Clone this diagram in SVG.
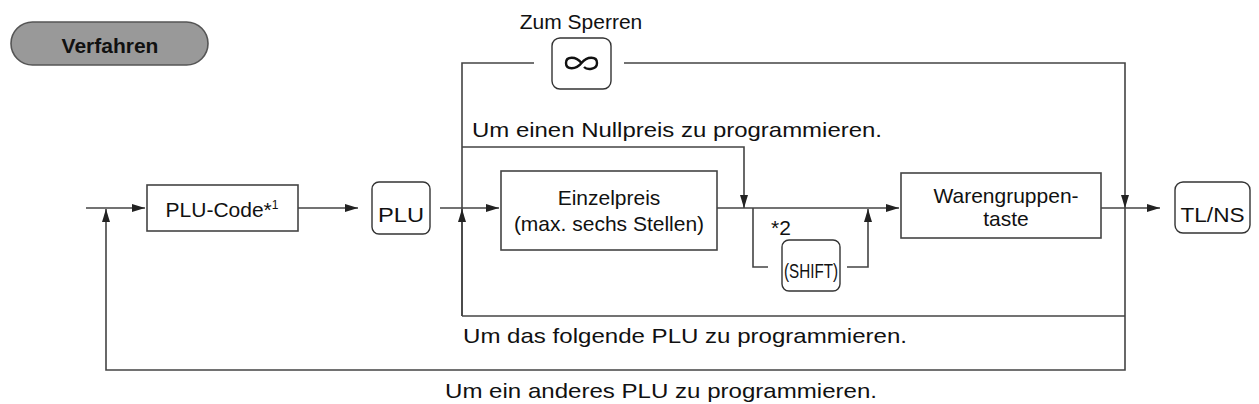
<svg xmlns="http://www.w3.org/2000/svg" width="1259" height="404" viewBox="0 0 1259 404">
<defs>
<marker id="a" markerWidth="13" markerHeight="8" refX="13" refY="4" orient="auto" markerUnits="userSpaceOnUse"><path d="M0,0 L13,4 L0,8 Z" fill="#222"/></marker>
<style>
.t{font-family:"Liberation Sans",Arial,sans-serif;fill:#111;font-size:21px}
.c{stroke:#444;stroke-width:1.6;fill:none}
.b{fill:#fff;stroke:#444;stroke-width:1.6}
.k{fill:#fff;stroke:#333;stroke-width:1.4}
</style>
</defs>
<g id="title"><rect x="11" y="22" width="197" height="43" rx="21.5" fill="#999" stroke="#555" stroke-width="1.6"/><text class="t" x="110" y="53" text-anchor="middle" font-weight="bold" font-size="24">Verfahren</text></g>
<g id="connectors">
<path class="c" d="M86,208 H145" marker-end="url(#a)"/>
<path class="c" d="M298,208 H358" marker-end="url(#a)"/>
<path class="c" d="M440,208 H499" marker-end="url(#a)"/>
<path class="c" d="M717,208 H899" marker-end="url(#a)"/>
<path class="c" d="M1101,208 H1160" marker-end="url(#a)"/>
<path class="c" d="M462,316 V63 H534"/>
<path class="c" d="M462,316 V209" marker-end="url(#a)"/>
<path class="c" d="M624,63 H1125 V208" marker-end="url(#a)"/>
<path class="c" d="M462,147 H744 V208" marker-end="url(#a)"/>
<path class="c" d="M462,316 H1125"/>
<path class="c" d="M1125,208 V370 H106 V209" marker-end="url(#a)"/>
<path class="c" d="M753,208 V267 H768"/>
<path class="c" d="M847,267 H868 V209" marker-end="url(#a)"/>
</g>
<g id="sperren"><text class="t" x="581" y="29" text-anchor="middle">Zum Sperren</text><rect class="k" x="552" y="38" width="59" height="51" rx="8"/><path d="M581.5,63 C576,56 566,56 566,63 C566,70 576,70 581.5,63 C587,56 597,56 597,63 C597,70 587,70 584,67" fill="none" stroke="#111" stroke-width="2.4"/></g>
<g id="plucode"><rect class="b" x="147" y="185" width="151" height="46"/><text class="t" x="222" y="217" text-anchor="middle" font-size="19">PLU-Code*<tspan font-size="12" dy="-8">1</tspan></text></g>
<g id="plu"><rect class="k" x="372" y="182" width="58" height="52" rx="7"/><text class="t" x="401" y="222" text-anchor="middle" font-size="29" textLength="46" lengthAdjust="spacingAndGlyphs">PLU</text></g>
<g id="einzel"><rect class="b" x="501" y="171" width="216" height="79"/><text class="t" x="609" y="205" text-anchor="middle">Einzelpreis</text><text class="t" x="609" y="231" text-anchor="middle" font-size="19">(max. sechs Stellen)</text></g>
<g id="waren"><rect class="b" x="901" y="173" width="200" height="65"/><text class="t" x="1006" y="203" text-anchor="middle">Warengruppen-</text><text class="t" x="1006" y="226" text-anchor="middle">taste</text></g>
<g id="tlns"><rect class="k" x="1175" y="182" width="75" height="51" rx="8"/><text class="t" x="1212.5" y="222" text-anchor="middle" font-size="29" textLength="64" lengthAdjust="spacingAndGlyphs">TL/NS</text></g>
<g id="shift"><text class="t" x="771" y="235" font-size="12">*2</text><rect class="k" x="782" y="240" width="58" height="51" rx="7"/><text class="t" x="811" y="278" text-anchor="middle" font-size="25" textLength="54" lengthAdjust="spacingAndGlyphs">(SHIFT)</text></g>
<text class="t" x="472" y="137" textLength="410" lengthAdjust="spacingAndGlyphs">Um einen Nullpreis zu programmieren.</text>
<text class="t" x="463" y="343" textLength="444" lengthAdjust="spacingAndGlyphs">Um das folgende PLU zu programmieren.</text>
<text class="t" x="445" y="398" textLength="432" lengthAdjust="spacingAndGlyphs">Um ein anderes PLU zu programmieren.</text>
</svg>
